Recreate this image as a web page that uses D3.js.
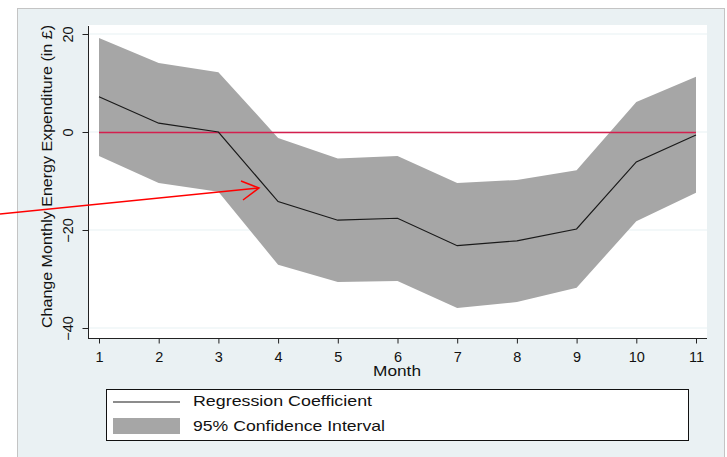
<!DOCTYPE html>
<html>
<head>
    <script src="https://d3js.org/d3.v7.min.js"></script>
    <style>
        body { margin: 0; background: #fff; }
        text { font-family: "Liberation Sans", Arial, sans-serif; fill: #111; }
    </style>
</head>
<body>
    <div id="chart"></div>
    <script>
        const width = 727, height = 457
        const months = [1, 2, 3, 4, 5, 6, 7, 8, 9, 10, 11]
        const coef = [7.2, 1.8, 0.0, -14.2, -18.0, -17.6, -23.2, -22.2, -19.8, -6.1, -0.6]
        const upper = [19.2, 14.1, 12.2, -1.2, -5.4, -4.9, -10.4, -9.8, -7.8, 6.1, 11.3]
        const lower = [-4.9, -10.4, -12.2, -27.1, -30.6, -30.4, -35.9, -34.7, -31.8, -18.2, -12.4]
        const yTicks = [-40, -20, 0, 20]
        const legendLabels = ["Regression Coefficient", "95% Confidence Interval"]
        const legendWidths = [179, 192]

        const svg = d3.select("#chart").append("svg")
            .attr("width", width)
            .attr("height", height)

        // outer panel
        svg.append("rect")
            .attr("x", 17.5).attr("y", 8.5)
            .attr("width", 707).attr("height", 460)
            .attr("fill", "#eaf1f3")
            .attr("stroke", "#c4c4c4")

        // plot region
        svg.append("rect")
            .attr("x", 88).attr("y", 25)
            .attr("width", 619).attr("height", 313)
            .attr("fill", "#fff")

        const x = d3.scaleLinear().domain([1, 11]).range([99, 696])
        const y = d3.scaleLinear().domain([-40, 20]).range([328, 34])

        // gridlines
        svg.append("g").selectAll("line")
            .data(yTicks)
            .join("line")
            .attr("x1", 89).attr("x2", 707)
            .attr("y1", d => y(d)).attr("y2", d => y(d))
            .attr("stroke", "#e8f1f3")
            .attr("stroke-width", 1.2)

        const rows = months.map((m, i) => ({ m: m, c: coef[i], lo: lower[i], hi: upper[i] }))

        // confidence band
        svg.append("path")
            .datum(rows)
            .attr("d", d3.area().x(d => x(d.m)).y0(d => y(d.lo)).y1(d => y(d.hi)))
            .attr("fill", "#a6a6a6")

        // zero line
        svg.append("line")
            .attr("x1", x(1)).attr("x2", x(11))
            .attr("y1", y(0) + 0.5).attr("y2", y(0) + 0.5)
            .attr("stroke", "#d41f4e")
            .attr("stroke-width", 1.3)

        // coefficient line
        svg.append("path")
            .datum(rows)
            .attr("d", d3.line().x(d => x(d.m)).y(d => y(d.c)))
            .attr("fill", "none")
            .attr("stroke", "#1a1a1a")
            .attr("stroke-width", 1.2)

        // x axis
        const xAxis = svg.append("g")
            .attr("transform", "translate(0,338.5)")
            .call(d3.axisBottom(x).tickValues(months).tickSize(5).tickFormat(d3.format("d")))
        xAxis.select(".domain").attr("d", "M88,0H707").attr("stroke", "#222")
        xAxis.selectAll(".tick line").attr("stroke", "#222")
        xAxis.selectAll(".tick text")
            .attr("y", 23).attr("dy", 0)
            .style("font-size", "14.5px")
            .style("font-family", "Liberation Sans, Arial, sans-serif")
            .attr("fill", "#111")

        svg.append("text")
            .attr("x", 373).attr("y", 376)
            .attr("textLength", 48)
            .attr("lengthAdjust", "spacingAndGlyphs")
            .style("font-size", "14px")
            .text("Month")

        // y axis
        const yAxis = svg.append("g")
            .attr("transform", "translate(88.5,0)")
            .call(d3.axisLeft(y).tickValues(yTicks).tickSize(6))
        yAxis.select(".domain").attr("d", "M0,26V338").attr("stroke", "#222")
        yAxis.selectAll(".tick text")
            .attr("x", 0).attr("dy", 0)
            .attr("transform", "translate(-16,0) rotate(-90)")
            .attr("text-anchor", "middle")
            .style("font-size", "14.5px")
            .style("font-family", "Liberation Sans, Arial, sans-serif")
            .attr("fill", "#111")
        yAxis.selectAll(".tick line").attr("stroke", "#222")

        svg.append("text")
            .attr("transform", "translate(52,328) rotate(-90)")
            .attr("textLength", 303)
            .attr("lengthAdjust", "spacingAndGlyphs")
            .style("font-size", "14px")
            .text("Change Monthly Energy Expenditure (in £)")

        // annotation arrow
        svg.append("line")
            .attr("x1", 0).attr("y1", 214)
            .attr("x2", 259).attr("y2", 188)
            .attr("stroke", "#ff0000").attr("stroke-width", 1.5)
        svg.append("path")
            .attr("d", "M241,181L259,188L243,200")
            .attr("fill", "none")
            .attr("stroke", "#ff0000").attr("stroke-width", 1.5)

        // legend
        const legend = svg.append("g")
        legend.append("rect")
            .attr("x", 106.5).attr("y", 389.5)
            .attr("width", 582).attr("height", 51)
            .attr("fill", "#fff")
            .attr("stroke", "#111")
        legend.append("line")
            .attr("x1", 113).attr("x2", 180)
            .attr("y1", 402).attr("y2", 402)
            .attr("stroke", "#1a1a1a").attr("stroke-width", 1.2)
        legend.append("rect")
            .attr("x", 113).attr("y", 418)
            .attr("width", 67).attr("height", 16)
            .attr("fill", "#a6a6a6")
        legend.selectAll("text.lab")
            .data(legendLabels)
            .join("text")
            .attr("class", "lab")
            .attr("x", 193)
            .attr("y", (d, i) => 406 + i * 25)
            .attr("textLength", (d, i) => legendWidths[i])
            .attr("lengthAdjust", "spacingAndGlyphs")
            .style("font-size", "15px")
            .text(d => d)
    </script>
</body>
</html>
